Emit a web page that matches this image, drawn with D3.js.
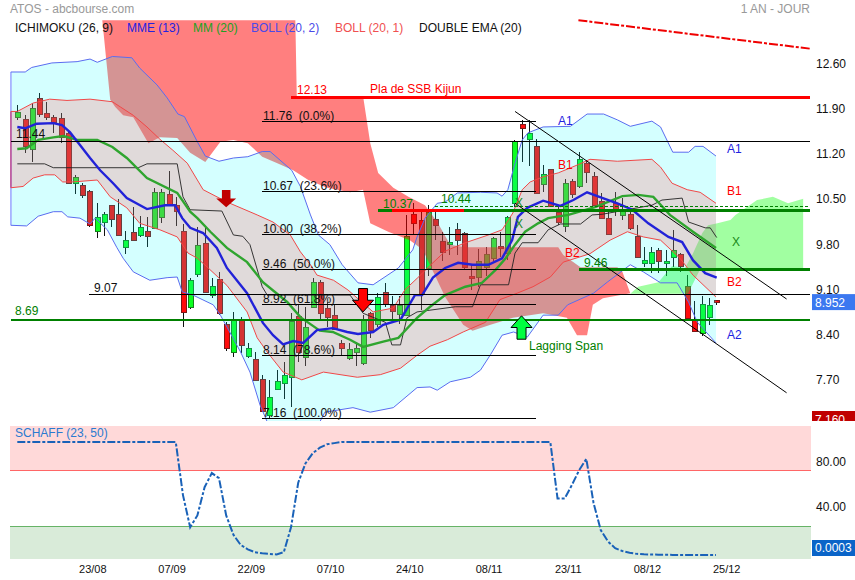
<!DOCTYPE html>
<html><head><meta charset="utf-8">
<style>html,body{margin:0;padding:0;background:#fff}svg{display:block}text{font-family:"Liberation Sans",Arial,sans-serif;font-size:12px}</style>
<script src="https://cdn.jsdelivr.net/npm/d3@7/dist/d3.min.js"></script>
</head><body><svg id="c" width="855" height="580"></svg>
<script>
// ---------- candles: open, high, low, close (by session index) ----------
const opens=[11.81,11.79,11.31,12.11,11.88,11.81,11.80,11.57,10.79,10.77,10.67,10.05,10.20,10.45,10.32,9.80,10.03,9.98,10.05,10.09,10.26,10.62,10.45,10.05,8.88,9.38,9.86,9.06,9.31,8.62,8.18,8.68,8.11,8.08,7.77,7.20,7.61,7.70,7.80,8.74,8.09,8.88,9.26,8.86,8.75,8.32,8.08,8.19,8.02,8.79,8.62,9.11,8.91,8.77,8.75,10.32,10.22,9.49,10.23,9.90,9.85,10.08,10.02,9.36,9.34,9.50,9.63,9.82,9.71,10.49,11.71,11.46,11.37,10.77,11.01,10.35,10.12,10.82,10.74,11.11,10.90,10.51,10.26,10.48,10.30,10.31,9.98,9.55,9.55,9.75,9.56,9.64,9.70,9.20,8.68,8.48,8.72,8.99];
const highs=[12.00,11.84,12.03,12.18,12.05,11.84,11.88,11.61,10.92,10.79,10.69,10.48,10.35,10.45,10.55,10.05,10.42,10.28,10.27,10.71,10.70,10.98,10.58,10.16,9.33,10.11,10.12,9.32,9.42,8.65,8.80,8.72,8.32,8.18,7.83,7.75,7.90,8.03,8.78,8.91,8.88,9.33,9.29,8.95,8.93,8.37,8.32,8.32,8.75,8.80,9.09,9.24,9.04,9.04,10.30,10.48,10.38,10.45,10.38,10.04,10.11,10.17,10.04,9.54,9.78,9.81,9.96,10.04,10.28,11.46,11.77,11.77,11.47,11.07,11.01,10.45,10.86,10.86,11.28,11.15,10.97,10.64,10.35,10.66,10.56,10.40,10.15,9.81,9.81,9.79,9.76,10.07,9.71,9.37,8.97,9.04,9.01,8.99];
const lows=[11.77,11.26,11.12,11.81,11.77,11.57,11.41,10.79,10.62,10.56,10.11,9.95,9.98,10.12,9.99,9.69,9.89,9.96,9.81,10.08,10.18,10.45,10.13,8.57,8.85,9.34,9.09,9.01,8.75,8.20,8.10,8.17,8.09,7.74,7.26,7.16,7.59,7.45,7.33,8.03,7.96,8.88,8.66,8.56,8.53,8.13,8.05,7.97,7.98,8.39,8.57,8.87,8.68,8.62,8.74,9.99,8.83,9.36,9.91,9.58,9.68,9.68,9.46,9.14,9.19,9.36,9.58,9.65,9.61,10.42,11.12,11.06,10.62,10.66,10.43,10.14,10.04,10.56,10.71,10.80,10.44,10.23,10.00,10.28,10.22,10.07,9.64,9.49,9.40,9.40,9.35,9.49,9.41,8.69,8.50,8.43,8.60,8.91];
const closes=[11.89,11.37,11.95,11.86,11.82,11.73,11.51,10.80,10.89,10.62,10.14,10.27,10.32,10.23,10.00,9.91,9.90,10.11,9.98,10.65,10.65,10.47,10.36,8.80,9.29,9.83,9.10,9.20,8.78,8.25,8.68,8.29,8.24,7.75,7.27,7.48,7.73,7.82,8.66,8.19,8.56,9.26,8.78,8.72,8.54,8.24,8.22,8.25,8.68,8.53,9.03,8.92,8.82,8.91,9.97,10.18,9.07,10.35,10.14,9.73,9.88,9.91,9.49,9.33,9.59,9.70,9.94,9.79,10.27,11.45,11.65,11.56,10.64,10.93,10.44,10.20,10.79,10.62,11.16,10.97,10.45,10.25,10.02,10.39,10.36,10.10,9.65,9.60,9.72,9.58,9.58,9.75,9.51,8.71,8.51,8.93,8.90,8.952];

// ---------- indicator series: [session index, price] ----------
const bollUpper2=[[-0.9,12.51],[1.1,12.51],[2,12.58],[4.8,12.65],[8.3,12.67],[10.1,12.71],[11.1,12.66],[13.2,12.75],[15.9,12.73],[17,12.57],[19.4,12.31],[20.8,12.11],[22.3,11.86],[23.2,11.82],[25,11.43],[26.1,11.21],[28,11.13],[30,11.18],[32,11.20],[34,11.28],[35.1,11.28],[38.1,10.99],[39.3,10.74],[40.7,10.30],[41.8,9.99],[43.4,9.84],[45.1,9.53],[47.3,9.25],[49.4,9.22],[52.9,9.48],[54.9,9.76],[55.5,9.96],[56.6,10.25],[58.3,10.48],[59.4,10.50],[61.1,10.64],[64.3,10.65],[66.6,10.64],[67.3,10.59],[68.1,10.69],[69.1,11.10],[70.1,11.46],[70.9,11.57],[73,11.66],[76.8,11.67],[79.1,11.86],[81.4,11.86],[83.3,11.77],[85.1,11.67],[88.1,11.75],[89.3,11.66],[91,11.27],[93.2,11.27],[94.1,11.36],[95.2,11.36],[97,11.21]];
const bollUpper1=[[-0.9,11.90],[0,11.90],[2.2,12.03],[4.5,12.09],[6.9,12.07],[10.1,12.09],[13.2,12.05],[14.3,11.97],[16.1,11.84],[18,11.66],[19.8,11.47],[21.6,11.30],[23.6,11.10],[25.8,10.69],[29.1,10.50],[33.3,10.30],[35.5,10.19],[37.9,9.99],[39.3,9.73],[40.7,9.53],[41.6,9.37],[43.9,9.29],[45.9,9.14],[49.4,8.80],[52.2,8.86],[53.8,9.14],[55.6,9.33],[57.7,9.56],[59.4,9.74],[62.2,9.87],[65.4,9.99],[67.3,10.07],[68.8,10.33],[70.1,10.69],[71.2,10.81],[73,10.89],[75.1,10.95],[77.7,11.07],[79.5,11.16],[83.3,11.13],[88.1,11.16],[89.3,11.04],[90.9,10.79],[93,10.69],[94.8,10.65],[97,10.48]];
const bollLower1=[[-0.9,10.72],[0.8,10.74],[2.2,10.87],[3.8,10.92],[5.2,10.92],[6.3,10.81],[7.7,10.81],[11.1,10.84],[12.9,10.58],[15.2,10.41],[17,10.17],[19.8,10.07],[22.2,9.96],[23.7,9.71],[25,9.63],[26.5,9.48],[29.1,9.21],[31.9,8.80],[33.3,8.40],[34.7,8.18],[36.9,7.87],[39.5,7.75],[42.5,7.87],[47.2,7.79],[50.4,7.83],[53.2,7.93],[55.5,8.13],[57.3,8.27],[59.7,8.37],[61.9,8.49],[65,8.64],[67,8.99],[69.4,9.09],[71.6,9.19],[74,9.34],[75.8,9.57],[79.5,9.70],[82.3,9.91],[84.7,10.04],[86.9,9.96],[89.3,9.91],[92,9.63],[93.8,9.37],[97,9.03]];
const bollLower2=[[-0.9,10.14],[1.3,10.13],[2.9,10.28],[5,10.35],[6.2,10.35],[7,10.27],[8.7,10.25],[10.1,10.16],[10.8,10.25],[12.5,10.07],[13.8,9.80],[14.7,9.63],[16.1,9.42],[18.4,9.29],[20.8,9.33],[22.2,9.34],[22.9,9.11],[24.4,9.06],[27.2,8.91],[28.2,8.75],[31,8.18],[32.3,7.87],[33.7,7.36],[34.7,7.10],[37.2,6.95],[40,6.88],[42,7.10],[42.7,7.25],[46.6,7.32],[49,7.25],[52.2,7.32],[55.5,7.63],[57.3,7.64],[58.3,7.59],[60.1,7.72],[62.9,7.79],[64.3,7.90],[65.7,8.14],[67.3,8.44],[68.9,8.49],[70.8,8.41],[73,8.75],[75.1,8.75],[76.4,8.91],[80,9.09],[81.9,9.26],[85.1,9.53],[86.9,9.42],[89.3,9.25],[91.6,9.25],[93.2,8.95],[94.4,8.64],[97,8.32]];
const mme13=[[0,11.66],[1.1,11.64],[2.7,11.71],[5,11.72],[6.2,11.69],[7.3,11.58],[8.7,11.38],[10.1,11.18],[11.5,10.99],[13.3,10.79],[15.2,10.56],[18,10.39],[20.5,10.45],[21.9,10.45],[22.9,10.25],[24,10.10],[25.8,10.02],[27.7,9.79],[29.1,9.48],[31.9,9.09],[34.1,8.63],[35.5,8.44],[36.9,8.30],[38.3,8.35],[39.7,8.32],[41.6,8.52],[43.8,8.55],[45.8,8.49],[47.3,8.46],[49.4,8.49],[50.8,8.60],[53.2,8.68],[55.2,9.06],[56.2,9.06],[57.7,9.33],[59.4,9.48],[61.2,9.56],[63.2,9.53],[65.4,9.53],[67.3,9.63],[68.7,9.91],[69.5,10.27],[70.8,10.41],[73,10.52],[75.4,10.44],[77.2,10.53],[79.1,10.65],[81,10.57],[83.3,10.48],[85.4,10.38],[87.6,10.17],[90.4,9.96],[92.3,9.88],[93.8,9.60],[95.5,9.40],[97.1,9.33]];
const mm20=[[0,11.32],[1.3,11.33],[2.9,11.46],[5,11.50],[6.4,11.52],[8.3,11.46],[11.1,11.46],[13.2,11.35],[15.2,11.18],[18,10.87],[22.2,10.64],[24,10.35],[25,10.25],[26.8,10.04],[29.1,9.79],[31.9,9.57],[34.1,9.26],[37.5,8.95],[39.3,8.72],[42,8.51],[43.8,8.49],[46.2,8.37],[48,8.26],[50.8,8.34],[52.9,8.40],[55.5,8.71],[57.3,8.88],[59.4,9.06],[62.2,9.19],[64.5,9.25],[66.4,9.45],[67.8,9.63],[69.1,9.84],[70.5,10.04],[72.3,10.17],[73.7,10.25],[76.5,10.30],[80.2,10.42],[84,10.59],[86.2,10.61],[88.3,10.58],[90.6,10.30],[93.8,10.04],[97,9.79]];
const kijun=[[0,11.09],[3.8,11.09],[5,11.03],[16.8,11.03],[18,11.09],[22.2,11.09],[23,10.58],[24,10.38],[28.4,10.36],[30,9.99],[31.3,9.97],[32.3,9.84],[34,9.19],[34.7,9.06],[46.2,9.06],[48,8.78],[49.3,8.72],[51.1,8.64],[52,8.29],[53.2,8.29],[54.1,8.71],[55.5,8.80],[60.8,8.88],[63.2,8.88],[64.3,9.22],[68.2,9.22],[69.1,9.71],[70.1,9.87],[72.3,9.87],[73.7,10.07],[75.4,10.16],[78.2,10.16],[79.8,10.30],[81.2,10.31],[88.1,10.45],[89.5,10.53],[92.3,10.56],[93.2,10.19],[95.5,10.10],[96.2,10.10],[97.1,9.95]];
const redCloud=[[11.8,13.31],[38.6,13.31],[38.8,12.14],[48,12.14],[49,11.41],[50.1,10.95],[52.2,10.72],[54.3,10.58],[56.6,10.45],[58.3,10.19],[60.1,9.84],[62.2,9.80],[75.1,9.80],[75.8,9.68],[78.2,9.49],[83.3,9.49],[84,9.42],[85.1,9.09],[81.3,9.01],[79.9,8.91],[79.1,8.44],[77.7,8.44],[76.3,8.71],[73,8.78],[68.8,8.71],[65.7,8.60],[63.2,8.51],[61.9,8.60],[59.4,9.03],[56.3,9.76],[54.5,9.91],[51.5,10.04],[49,10.17],[48,10.69],[46.2,10.65],[43,10.72],[40.4,10.84],[38.3,10.99],[36.1,11.10],[34,11.20],[32,11.41],[30,11.46],[28.2,11.43],[26.1,11.12],[24,11.26],[22.2,11.49],[19.8,11.50],[18.2,11.41],[16.1,11.81],[14.7,11.84],[13.6,11.97],[12.9,12.08]];
const greenCloud=[[85.1,9.08],[86.2,9.19],[89,9.26],[90.9,9.51],[92.7,9.48],[93.7,9.68],[95.1,10.02],[95.9,10.14],[97.2,10.17],[99,10.22],[99.7,10.30],[102.7,10.53],[104.9,10.58],[107,10.48],[109.1,10.55],[109.1,9.46],[94.8,9.46],[93.1,9.08]];
const schaff=[100,100,100,100,100,100,100,100,100,100,100,100,100,100,100,100,100,100,100,100,100,100,100,
 53,24.5,35,60,72.5,68,35,18,9,5,2.5,1.5,1,0.5,2.5,24.5,64,81,90,95,98,99,
 100,100,100,100,100,100,100,100,100,100,100,100,100,100,100,100,100,100,100,100,100,100,100,100,100,100,100,100,100,100,
 50,50,62,75,85,46,22,12,6,3.5,2,1,0.6,0.4,0.3,0.2,0.1,0.1,0.1,0.05,0.01,0.005,0.0003];

// ---------- levels, labels, ticks ----------
const fibValues=[11.76,10.67,10.00,9.46,8.92,8.14,7.16];
const fibLabels=["11.76\u00a0\u00a0(0.0%)","10.67\u00a0\u00a0(23.6%)","10.00\u00a0\u00a0(38.2%)","9.46\u00a0\u00a0(50.0%)","8.92\u00a0\u00a0(61.8%)","8.14\u00a0\u00a0(78.6%)","7.16\u00a0\u00a0(100.0%)"];
const priceTicks=[12.60,11.90,11.20,10.50,9.80,9.10,8.40,7.70];
const schaffTicks=[80,40];
const dateTicks=[10,21,32,43,54,65,76,87,98];
const dateLabels=["23/08","07/09","22/09","07/10","24/10","08/11","23/11","08/12","25/12"];
const legendNames=["ICHIMOKU (26, 9)","MME (13)","MM (20)","BOLL (20, 2)","BOLL (20, 1)","DOUBLE EMA (20)"];

// ---------- scales ----------
const svg=d3.select("#c");
const x=d3.scaleLinear().domain([0,97]).range([17.3,716]);
const y=d3.scaleLinear().domain([7.16,11.76]).range([418,120.5]);
const ys=d3.scaleLinear().domain([0,100]).range([555,442]);
const L=11,R=810,T=20,B=421;
const defs=svg.append("defs");
defs.append("clipPath").attr("id","main").append("rect").attr("x",L-1).attr("y",T).attr("width",R-L+1).attr("height",B-T);
defs.append("clipPath").attr("id","side").append("rect").attr("x",810).attr("y",T).attr("width",45).attr("height",B-T);
const line=d3.line().x(d=>x(d[0])).y(d=>y(d[1]));
const main=svg.append("g").attr("clip-path","url(#main)");

// candles under everything
const n=opens.length, idx=d3.range(n);
main.append("g").selectAll("line").data(idx).join("line")
  .attr("x1",i=>Math.round(x(i))+.5).attr("x2",i=>Math.round(x(i))+.5)
  .attr("y1",i=>y(highs[i])).attr("y2",i=>y(lows[i]))
  .attr("stroke","#111").attr("shape-rendering","crispEdges");
main.append("g").selectAll("rect").data(idx).join("rect")
  .attr("x",i=>Math.round(x(i))-2).attr("width",5)
  .attr("y",i=>Math.round(y(Math.max(opens[i],closes[i])))+.5)
  .attr("height",i=>Math.max(2,Math.round(Math.abs(y(opens[i])-y(closes[i])))))
  .attr("fill",i=>closes[i]>=opens[i]?"#0cff20":"#ff0c0c")
  .attr("stroke",i=>closes[i]>=opens[i]?"#16801c":"#7c1818")
  .attr("shape-rendering","crispEdges");

// translucent cloud over candles
main.append("path").attr("d",line(redCloud)+"Z").attr("fill","rgb(255,0,0)").attr("fill-opacity",.5);
main.append("path").attr("d",line(greenCloud)+"Z").attr("fill","rgb(0,255,0)").attr("fill-opacity",.37);

// bollinger fills: translucent over candles and cloud
const ring=line(bollUpper2)+"L"+line([...bollLower2].reverse()).slice(1)+"Z";
const inner=line(bollUpper1)+"L"+line([...bollLower1].reverse()).slice(1)+"Z";
main.append("path").attr("d",ring+inner).attr("fill-rule","evenodd").attr("fill","rgb(0,255,255)").attr("fill-opacity",.17);
main.append("path").attr("d",inner).attr("fill","rgb(161,143,143)").attr("fill-opacity",.33);

// left closing strokes
main.append("line").attr("x1",x(-0.9)).attr("x2",x(-0.9)).attr("y1",y(12.51)).attr("y2",y(10.14)).attr("stroke","#a8b4ff").attr("stroke-width",2);
main.append("line").attr("x1",x(-0.9)).attr("x2",x(-0.9)).attr("y1",y(11.90)).attr("y2",y(10.72)).attr("stroke","#c060a0").attr("stroke-width",2);

// indicator lines
[[bollUpper2,"#5a6cf0",1],[bollLower2,"#5a6cf0",1],[bollUpper1,"#f04848",1],[bollLower1,"#f04848",1],[kijun,"#222",.9]].forEach(([d,c,w])=>
  main.append("path").attr("d",line(d)).attr("fill","none").attr("stroke",c).attr("stroke-width",w));
[[mm20,"#2fa52f"],[mme13,"#2222d8"]].forEach(([d,c])=>
  main.append("path").attr("d",line(d)).attr("fill","none").attr("stroke",c).attr("stroke-width",2.4));

// horizontal levels
const hline=(v,a,b,c,w,dash)=>{const l=main.append("line").attr("x1",a).attr("x2",b).attr("y1",Math.round(y(v))+.5).attr("y2",Math.round(y(v))+.5)
  .attr("stroke",c).attr("stroke-width",w).attr("shape-rendering","crispEdges"); if(dash) l.attr("stroke-dasharray",dash);};
fibValues.forEach(v=>hline(v,262,536,"#000",1));
hline(11.44,L,R,"#000",1);
hline(9.07,89,R,"#000",1);
hline(8.69,L,R,"#008000",2);
hline(12.13,291,R,"#ff0000",3);
hline(10.37,378,R,"#008000",3);
hline(10.37,392,464,"#ff0000",3);
hline(10.44,435,R,"#008000",1,"3,2");
hline(9.46,579,R,"#008000",3);

// channel lines + red dash-dot trend
const channelA=[[69.1,11.90],[106.8,9.00]], channelB=[[69.1,10.48],[106.8,7.55]], trendRed=[[77.9,13.31],[110.1,12.87]];
main.append("path").attr("d",line(channelA)).attr("stroke","#000").attr("fill","none");
main.append("path").attr("d",line(channelB)).attr("stroke","#000").attr("fill","none");
svg.append("path").attr("d",line(trendRed)).attr("stroke","#f00000").attr("stroke-width",2).attr("stroke-dasharray","9,2,3,2").attr("fill","none");

// arrows: tip at (session index, price)
const arrowDown=[[-4.5,-18],[4.5,-18],[4.5,-9],[10.5,-9],[0,0],[-10.5,-9],[-4.5,-9]];
const poly=(pts,tx,ty,sc,fill,stroke)=>main.append("polygon").attr("points",pts.map(p=>p[0]*sc+","+p[1]*sc).join(" "))
  .attr("transform",`translate(${tx},${ty})`).attr("fill",fill).attr("stroke",stroke||"none");
const arrowTips=[[29,10.42],[48,8.80],[70,8.74]];
poly(arrowDown,x(arrowTips[0][0]),y(arrowTips[0][1]),.95,"#c00000");
poly(arrowDown.map(p=>[p[0],p[1]*1.3]),x(arrowTips[1][0]),y(arrowTips[1][1]),1,"#ff0000","#000");
poly(arrowDown.map(p=>[p[0],-p[1]*1.3]),x(arrowTips[2][0]),y(arrowTips[2][1]),1,"#00ff40","#000");

// texts in the plot
const txt=(g,s,a,b,c,o={})=>g.append("text").text(s).attr("x",a).attr("y",b).attr("fill",c).attr("text-anchor",o.a||"start").style("font-size",(o.s||12)+"px");
fibValues.forEach((v,i)=>txt(main,fibLabels[i],263,Math.round(y(v))-1,"#111"));
txt(main,"11.44",16,138,"#111");
txt(main,"9.07",94,292,"#111");
txt(main,"8.69",15,315,"#008000");
txt(main,"12.13",297,94,"#ff0000");
txt(main,"Pla de SSB Kijun",370,93,"#ff0000");
txt(main,"10.37",383,208,"#008000");
txt(main,"10.44",441,203,"#008000");
txt(main,"9.46",584,267,"#008000");
txt(main,"Lagging Span",529,350,"#008000");
[["A1",558,125,"#2222e0"],["A1",727,153,"#2222e0"],["B1",558,169,"#ff0000"],["B1",727,195,"#ff0000"],["B2",565,257,"#ff0000"],["B2",727,286,"#ff0000"],["A2",727,339,"#2222e0"],["X",515,207,"#1a8a1a"],["X",515,228,"#1a8a1a"],["X",732,246,"#1a8a1a"]].forEach(d=>txt(main,d[0],d[1],d[2],d[3]));

// header
txt(svg,"ATOS - abcbourse.com",10,13,"#999999");
txt(svg,"1 AN - JOUR",810,13,"#999999",{a:"end"});
const legendX=[15,127,193,251,335,419], legendC=["#111","#2222e0","#22a022","#4a4ae8","#f05050","#111"];
legendNames.forEach((s,i)=>txt(svg,s,legendX[i],32,legendC[i]));

// axes
const yAxis=d3.axisRight(y).tickValues(priceTicks).tickSize(0).tickPadding(0).tickFormat(d3.format(".2f"));
const ga=svg.append("g").attr("transform","translate(816,-3)").call(yAxis);
ga.select(".domain").remove();
ga.selectAll("text").attr("fill","#111").style("font-size","12px").style("font-family",'"Liberation Sans"');

// value boxes
const side=svg.append("g").attr("clip-path","url(#side)");
side.append("rect").attr("x",812).attr("y",y(8.952)-8).attr("width",43).attr("height",16).attr("fill","#3b78f0");
txt(side,"8.952",815,y(8.952)+5,"#fff");
side.append("rect").attr("x",812).attr("y",y(7.16)-7).attr("width",43).attr("height",16).attr("fill","#c00000");
txt(side,"7.160",815,y(7.16)+6,"#fff");

// schaff panel
const ps=svg.append("g");
ps.append("rect").attr("x",10).attr("y",426).attr("width",801).attr("height",ys(75)-426).attr("fill","#ffd9d9");
ps.append("rect").attr("x",10).attr("y",ys(25)).attr("width",801).attr("height",559-ys(25)).attr("fill","#d9ebd9");
ps.append("line").attr("x1",10).attr("x2",811).attr("y1",ys(75)).attr("y2",ys(75)).attr("stroke","#ff6666").attr("shape-rendering","crispEdges");
ps.append("line").attr("x1",10).attr("x2",811).attr("y1",ys(25)).attr("y2",ys(25)).attr("stroke","#66b366").attr("shape-rendering","crispEdges");
ps.append("path").attr("d",d3.line().x((d,i)=>x(i)).y(d=>ys(d))(schaff)).attr("fill","none").attr("stroke","#1a62b8").attr("stroke-width",2).attr("stroke-dasharray","8,2,3,2");
txt(ps,"SCHAFF (23, 50)",15,437,"#2a7ad0");
const sAxis=d3.axisRight(ys).tickValues(schaffTicks).tickSize(0).tickPadding(0).tickFormat(d3.format(".2f"));
const gs=svg.append("g").attr("transform","translate(816,-3)").call(sAxis);
gs.select(".domain").remove();
gs.selectAll("text").attr("fill","#111").style("font-size","12px").style("font-family",'"Liberation Sans"');
ps.append("rect").attr("x",812).attr("y",540).attr("width",43).attr("height",16).attr("fill","#0a64c8");
txt(ps,"0.0003",815,552,"#fff",{s:12});

// date axis
const xAxis=d3.axisBottom(x).tickValues(dateTicks).tickSize(0).tickPadding(0).tickFormat((d,i)=>dateLabels[i]);
const gx=svg.append("g").attr("transform","translate(3,565)").call(xAxis);
gx.select(".domain").remove();
gx.selectAll("text").attr("fill","#111").style("font-size","11px").style("font-family",'"Liberation Sans"');
</script></body></html>
